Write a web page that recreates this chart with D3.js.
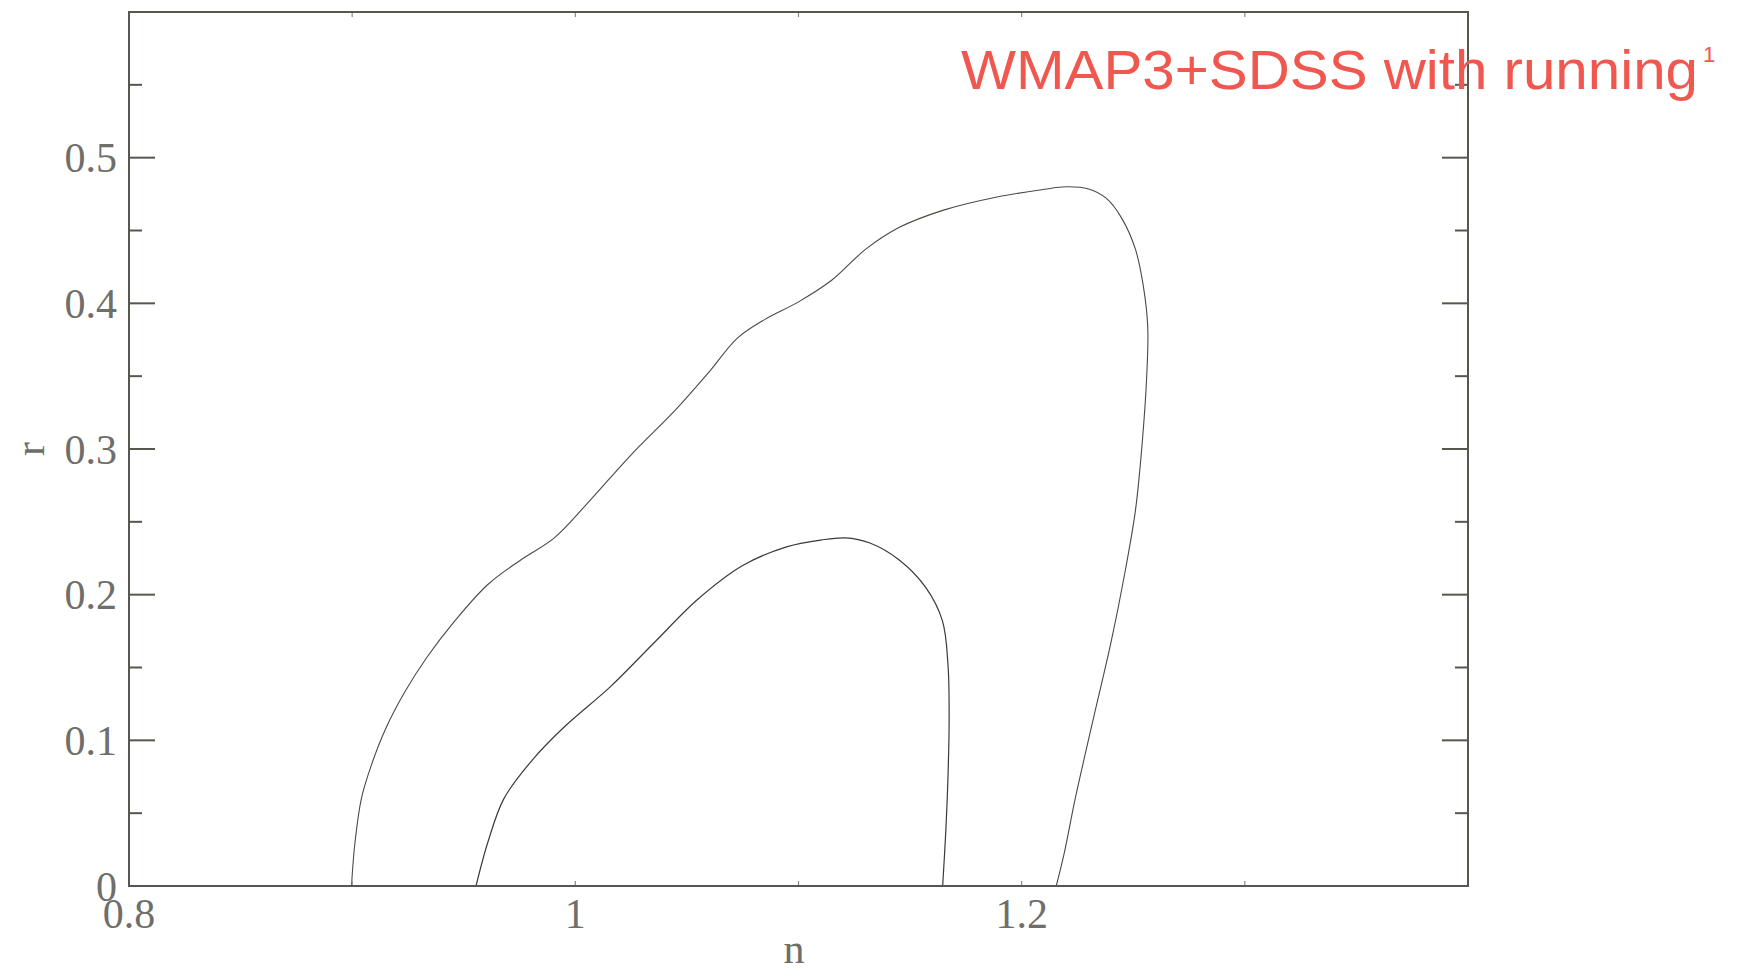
<!DOCTYPE html>
<html>
<head>
<meta charset="utf-8">
<script src="https://cdn.jsdelivr.net/npm/d3@7"></script>
<style>
  html, body { margin: 0; padding: 0; background: #fff; }
  svg { display: block; }
</style>
</head>
<body>
<svg id="chart" width="1738" height="977"></svg>
<script>
// ---- data (n, r) ----
const outerN = [0.8997, 0.9012, 0.9042, 0.9086, 0.915, 0.9235, 0.9335, 0.946, 0.9608, 0.9757, 0.9906, 1.005, 1.025, 1.045, 1.06, 1.0725, 1.085, 1.10, 1.115, 1.13, 1.145, 1.165, 1.189, 1.209, 1.220, 1.230, 1.238, 1.245, 1.251, 1.2545, 1.2565, 1.256, 1.254, 1.251, 1.246, 1.24, 1.232, 1.224, 1.219, 1.2155];
const outerR = [0.0, 0.029, 0.0605, 0.083, 0.108, 0.133, 0.157, 0.182, 0.207, 0.224, 0.239, 0.262, 0.296, 0.327, 0.353, 0.376, 0.389, 0.401, 0.416, 0.437, 0.452, 0.464, 0.473, 0.478, 0.480, 0.4785, 0.472, 0.458, 0.437, 0.412, 0.384, 0.349, 0.304, 0.258, 0.213, 0.167, 0.114, 0.060, 0.022, 0.0];
const innerN = [0.9555, 0.9608, 0.968, 0.981, 0.9956, 1.0155, 1.0353, 1.055, 1.075, 1.095, 1.11, 1.121, 1.132, 1.145, 1.157, 1.1645, 1.167, 1.1675, 1.167, 1.166, 1.1646];
const innerR = [0.0, 0.030, 0.060, 0.087, 0.110, 0.1365, 0.167, 0.197, 0.220, 0.233, 0.2375, 0.239, 0.2355, 0.224, 0.205, 0.182, 0.1515, 0.114, 0.0757, 0.0376, 0.0];

const xMajorTicks = [0.8, 1.0, 1.2];
const xTickLabels = ["0.8", "1", "1.2"];
const xMinorTicks = [0.8, 0.9, 1.0, 1.1, 1.2, 1.3, 1.4];
const yMajorTicks = [0, 0.1, 0.2, 0.3, 0.4, 0.5];
const yTickLabels = ["0", "0.1", "0.2", "0.3", "0.4", "0.5"];
const yMinorTicks = [0.05, 0.15, 0.25, 0.35, 0.45, 0.55];
const xTitle = "n";
const yTitle = "r";
const chartTitle = "WMAP3+SDSS with running";
const titleSup = "1";

// ---- layout ----
const L = 129, R = 1468, T = 12, B = 886;
const svg = d3.select("#chart");
const x = d3.scaleLinear().domain([0.8, 1.4]).range([L, R]);
const y = d3.scaleLinear().domain([0, 0.6]).range([B, T]);

const frameColor = "#56574e";
const labelColor = "#6e6e6a";
const serif = "'Liberation Serif', 'DejaVu Serif', serif";

// contours
const line = d3.line().x(d => x(d[0])).y(d => y(d[1])).curve(d3.curveCatmullRom.alpha(0.5));
const outer = outerN.map((n, i) => [n, outerR[i]]);
const inner = innerN.map((n, i) => [n, innerR[i]]);
svg.append("path").attr("d", line(outer)).attr("fill", "none").attr("stroke", "#4a4a44").attr("stroke-width", 1.1);
svg.append("path").attr("d", line(inner)).attr("fill", "none").attr("stroke", "#3a3a36").attr("stroke-width", 1.2);

// y ticks (left & right, inward)
const g = svg.append("g").attr("stroke", frameColor).attr("stroke-width", 2);
yMajorTicks.forEach(v => {
  g.append("line").attr("x1", L).attr("x2", L + 26).attr("y1", y(v)).attr("y2", y(v));
  g.append("line").attr("x1", R).attr("x2", R - 26).attr("y1", y(v)).attr("y2", y(v));
});
yMinorTicks.forEach(v => {
  g.append("line").attr("x1", L).attr("x2", L + 13).attr("y1", y(v)).attr("y2", y(v));
  g.append("line").attr("x1", R).attr("x2", R - 13).attr("y1", y(v)).attr("y2", y(v));
});
// x ticks (small, inward)
const gx = svg.append("g").attr("stroke", "#8a8a84").attr("stroke-width", 1.2);
xMinorTicks.forEach(v => {
  gx.append("line").attr("x1", x(v)).attr("x2", x(v)).attr("y1", B).attr("y2", B - 5);
  gx.append("line").attr("x1", x(v)).attr("x2", x(v)).attr("y1", T).attr("y2", T + 5);
});

// frame
svg.append("rect").attr("x", L).attr("y", T).attr("width", R - L).attr("height", B - T)
  .attr("fill", "none").attr("stroke", frameColor).attr("stroke-width", 2);

// y tick labels
svg.append("g").selectAll("text").data(yMajorTicks).join("text")
  .attr("x", L - 12).attr("y", d => y(d)).attr("dy", "0.35em")
  .attr("text-anchor", "end").attr("font-family", serif).attr("font-size", 42)
  .attr("fill", labelColor).text((d, i) => yTickLabels[i]);

// x tick labels
svg.append("g").selectAll("text").data(xMajorTicks).join("text")
  .attr("x", d => x(d)).attr("y", 928)
  .attr("text-anchor", "middle").attr("font-family", serif).attr("font-size", 42)
  .attr("fill", labelColor).text((d, i) => xTickLabels[i]);

// axis titles
svg.append("text").attr("x", 794).attr("y", 963).attr("text-anchor", "middle")
  .attr("font-family", serif).attr("font-size", 42).attr("fill", labelColor).text(xTitle);
svg.append("text").attr("transform", "translate(44,449) rotate(-90)").attr("text-anchor", "middle")
  .attr("font-family", serif).attr("font-size", 42).attr("fill", labelColor).text(yTitle);

// title
svg.append("text").attr("x", 961).attr("y", 89)
  .attr("font-family", "'Liberation Sans', Arial, sans-serif").attr("font-size", 56)
  .attr("fill", "#f0574f").attr("textLength", 737).attr("lengthAdjust", "spacingAndGlyphs")
  .text(chartTitle);
svg.append("text").attr("x", 1703).attr("y", 62)
  .attr("font-family", "'Liberation Sans', Arial, sans-serif").attr("font-size", 22)
  .attr("fill", "#f0574f").text(titleSup);
</script>
</body>
</html>
